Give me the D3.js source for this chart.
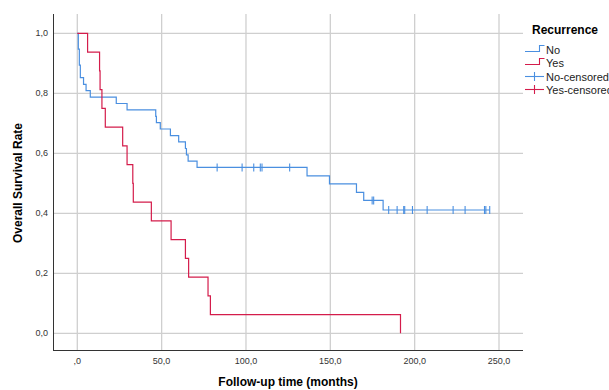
<!DOCTYPE html>
<html>
<head>
<meta charset="utf-8">
<script src="https://cdn.jsdelivr.net/npm/d3@7"></script>
<style>
  body { margin: 0; background: #fff; }
  svg { font-family: 'Liberation Sans', Arial, sans-serif; }
</style>
</head>
<body>
<svg id="chart" width="609" height="390"></svg>
<script>
// Kaplan-Meier steps
const noTimes = [0, 0.6, 1.2, 1.8, 3.7, 5.2, 7.7, 23.1, 29.5, 46.5, 46.9, 49.2, 55.2, 60.1, 64.1, 64.7, 65.7, 71.0, 136.2, 149.5, 165.5, 169.8, 181.3, 244.5]
const noSurv = [1.0, 0.947, 0.894, 0.852, 0.830, 0.809, 0.787, 0.766, 0.745, 0.723, 0.702, 0.681, 0.659, 0.638, 0.616, 0.595, 0.574, 0.553, 0.525, 0.498, 0.470, 0.443, 0.411, 0.411]
const noCensored = [82.9, 97.7, 104.6, 108.5, 109.5, 125.9, 174.8, 175.7, 184.6, 189.6, 193.5, 194.1, 198.7, 207.4, 222.8, 229.9, 241.4, 242.2, 244.5]

const yesTimes = [0, 6.1, 13.2, 13.5, 14.6, 16.6, 26.9, 29.5, 32.9, 33.2, 43.9, 55.6, 64.1, 66.0, 77.5, 78.9, 191.6]
const yesSurv = [1.0, 0.9375, 0.875, 0.8125, 0.75, 0.6875, 0.625, 0.5625, 0.5, 0.4375, 0.375, 0.3125, 0.25, 0.1875, 0.125, 0.0625, 0.0]

const xTicks = [0, 50, 100, 150, 200, 250]
const yTicks = [0, 0.2, 0.4, 0.6, 0.8, 1.0]
const legendLabels = ['No', 'Yes', 'No-censored', 'Yes-censored']

const blue = '#4a8fe0'
const red = '#d41c4b'
const comma = (v) => d3.format('.1f')(v).replace('.', ',')
const fmtX = (v) => (v === 0 ? ',0' : comma(v))

const svg = d3.select('#chart')
const plotLeft = 53
const plotRight = 523
const plotTop = 14
const plotBottom = 350

const x = d3.scaleLinear().domain([0, 250]).range([77.3, 499])
const y = d3.scaleLinear().domain([0, 1]).range([333.3, 33.3])

// gridlines
svg.append('g')
  .selectAll('line')
  .data(xTicks)
  .join('line')
  .attr('x1', (d) => x(d))
  .attr('x2', (d) => x(d))
  .attr('y1', plotTop)
  .attr('y2', plotBottom)
  .attr('stroke', '#cfcfcf')
  .attr('stroke-width', 1.3)

svg.append('g')
  .selectAll('line')
  .data(yTicks)
  .join('line')
  .attr('x1', plotLeft)
  .attr('x2', plotRight)
  .attr('y1', (d) => y(d))
  .attr('y2', (d) => y(d))
  .attr('stroke', '#cfcfcf')
  .attr('stroke-width', 1.3)

// axes lines
svg.append('line')
  .attr('x1', plotLeft + 0.5).attr('x2', plotLeft + 0.5)
  .attr('y1', plotTop).attr('y2', plotBottom)
  .attr('stroke', '#333')
svg.append('line')
  .attr('x1', plotLeft).attr('x2', plotRight)
  .attr('y1', plotBottom + 0.5).attr('y2', plotBottom + 0.5)
  .attr('stroke', '#333')

// tick labels
svg.append('g')
  .selectAll('text')
  .data(yTicks)
  .join('text')
  .attr('x', 48)
  .attr('y', (d) => y(d) + 3)
  .attr('text-anchor', 'end')
  .style('font-size', '9px')
  .attr('fill', '#333')
  .text(comma)

svg.append('g')
  .selectAll('text')
  .data(xTicks)
  .join('text')
  .attr('x', (d) => x(d))
  .attr('y', 364)
  .attr('text-anchor', 'middle')
  .style('font-size', '9px')
  .attr('fill', '#333')
  .text(fmtX)

// axis titles
svg.append('text')
  .attr('transform', 'translate(22,183) rotate(-90)')
  .attr('text-anchor', 'middle')
  .style('font-size', '12px')
  .style('font-weight', 'bold')
  .text('Overall Survival Rate')

svg.append('text')
  .attr('x', 288)
  .attr('y', 386)
  .attr('text-anchor', 'middle')
  .style('font-size', '12px')
  .style('font-weight', 'bold')
  .text('Follow-up time (months)')

// curves
const stepLine = d3.line()
  .x((d) => x(d[0]))
  .y((d) => y(d[1]))
  .curve(d3.curveStepAfter)

svg.append('path')
  .datum(d3.zip(noTimes, noSurv))
  .attr('d', stepLine)
  .attr('fill', 'none')
  .attr('stroke', blue)
  .attr('stroke-width', 1.2)

svg.append('path')
  .datum(d3.zip(yesTimes, yesSurv))
  .attr('d', stepLine)
  .attr('fill', 'none')
  .attr('stroke', red)
  .attr('stroke-width', 1.2)

// censor marks
const survAt = (t) => {
  const i = d3.bisectRight(noTimes, t) - 1
  return noSurv[Math.max(0, i)]
}
svg.append('g')
  .selectAll('line')
  .data(noCensored)
  .join('line')
  .attr('x1', (d) => x(d))
  .attr('x2', (d) => x(d))
  .attr('y1', (d) => y(survAt(d)) - 4)
  .attr('y2', (d) => y(survAt(d)) + 4)
  .attr('stroke', blue)
  .attr('stroke-width', 1.1)

// legend
const legend = svg.append('g')
legend.append('text')
  .attr('x', 532)
  .attr('y', 34)
  .style('font-size', '12px')
  .style('font-weight', 'bold')
  .text('Recurrence')

const rowY = [50, 63, 76.5, 89.5]
const colors = [blue, red, blue, red]
legendLabels.forEach((label, i) => {
  const yy = rowY[i]
  if (i < 2) {
    legend.append('path')
      .attr('d', `M525,${yy + 1.5}H539.5V${yy - 4.5}H544.5`)
      .attr('fill', 'none')
      .attr('stroke', colors[i])
      .attr('stroke-width', 1.1)
  } else {
    legend.append('line')
      .attr('x1', 525).attr('x2', 544)
      .attr('y1', yy).attr('y2', yy)
      .attr('stroke', colors[i])
      .attr('stroke-width', 1.1)
    legend.append('line')
      .attr('x1', 534.5).attr('x2', 534.5)
      .attr('y1', yy - 4.5).attr('y2', yy + 4.5)
      .attr('stroke', colors[i])
      .attr('stroke-width', 1.1)
  }
  legend.append('text')
    .attr('x', 546)
    .attr('y', yy + 4)
    .style('font-size', '11px')
    .attr('fill', '#222')
    .text(label)
})
</script>
</body>
</html>
